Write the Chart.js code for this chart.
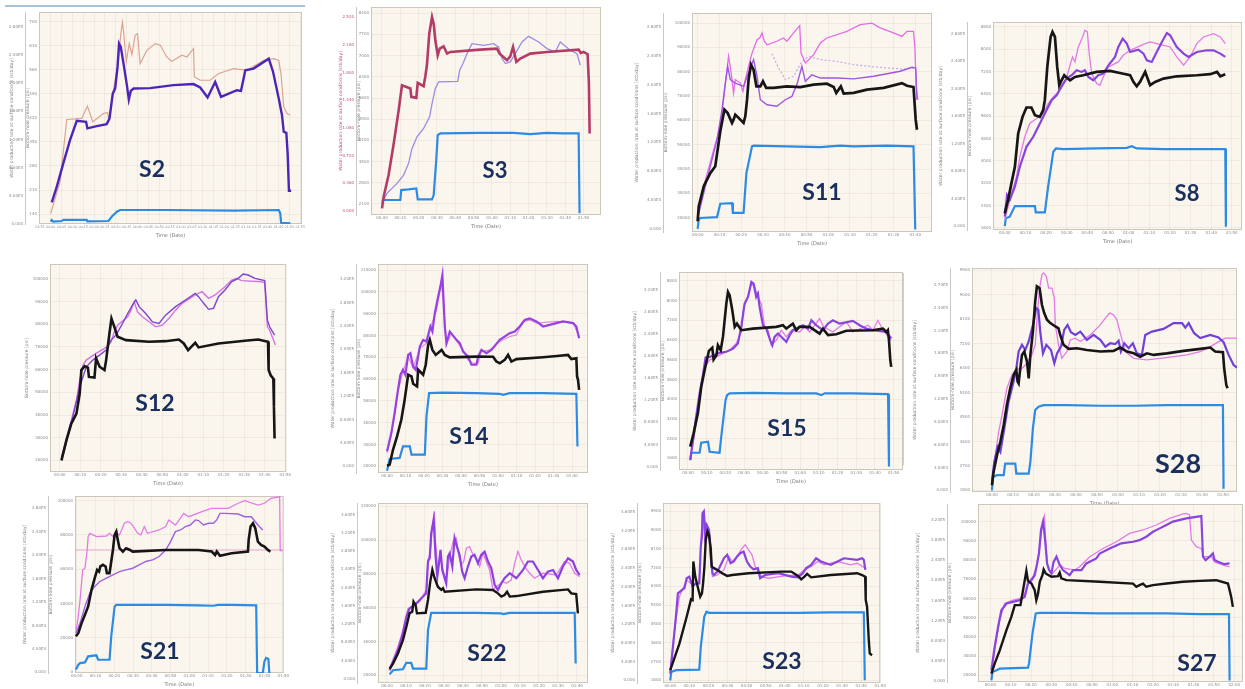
<!DOCTYPE html>
<html><head><meta charset="utf-8">
<script src="https://cdn.jsdelivr.net/npm/chart.js@4.4.1/dist/chart.umd.min.js"></script>
<style>
html,body{margin:0;padding:0;background:#ffffff;}
body{position:relative;width:1245px;height:689px;overflow:hidden;}
canvas{position:absolute;}
.lbl{position:absolute;transform:translate(-50%,-50%);font-family:Lato,'Open Sans','DejaVu Sans',sans-serif;font-weight:700;color:#1b2f5e;white-space:nowrap;line-height:1;}
.deco{position:absolute;}
</style></head><body>
<script>
// ---------- tick label arrays (bottom to top) ----------
const T_S2   = ["140","210","280","350","420","490","560","630","700"];
const T_S3   = ["2100","2800","3500","4200","4900","5600","6300","7000","7700","8400"];
const T_20K  = ["20000","30000","40000","50000","60000","70000","80000","90000","100000"];
const T_S8   = ["1600","2400","3200","4000","4800","5600","6400","7200","8000","8800"];
const T_S14  = ["20000","30000","40000","50000","60000","70000","80000","90000","100000","110000"];
const T_S28  = ["1800","2700","3600","4500","5400","6300","7200","8100","9000","9900"];
const T_S21  = ["0","20000","40000","60000","80000","100000"];
const T_S22  = ["20000","40000","60000","80000","100000","120000"];
const R_STD  = ["0.000","4.00E4","8.00E4","1.20E5","1.60E5","2.00E5","2.40E5","2.80E5","3.20E5","3.60E5"];
const R_S28  = ["0.000","3.00E4","6.00E4","9.00E4","1.20E5","1.50E5","1.80E5","2.10E5","2.40E5","2.70E5"];
const R_S3   = ["0.000","0.360","0.720","1.080","1.440","1.800","2.160","2.520"];

// ---------- series: [minutes after 00:00, % of axis height] ----------
const S2_purple=[[0.5,10.2],[2.8,17.6],[5.8,28.6],[8.9,39.6],[12.0,48.7],[16.3,48.2],[16.9,45.1],[21.2,46.2],[25.8,47.1],[27.1,49.8],[28.6,61.5],[29.7,63.9],[30.8,74.1],[31.5,85.1],[32.3,83.5],[33.8,74.1],[35.1,65.5],[36.0,58.7],[36.9,62.8],[38.2,63.9],[45.8,64.1],[56.6,65.5],[65.8,66.0],[68.9,64.4],[72.3,59.7],[75.8,67.0],[78.5,60.0],[85.8,63.1],[87.7,62.8],[89.7,72.5],[93.5,73.3],[100.5,78.0],[102.5,71.7],[105.1,59.2],[106.6,51.3],[107.4,43.5],[108.6,43.0],[109.2,33.3],[109.8,15.7],[110.8,15.7]];
const S2_tan=[[0,5.0],[4.3,19.9],[7.4,49.3],[14.3,49.8],[16.9,55.6],[19.4,48.2],[24.3,52.1],[26.2,52.6],[26.8,49.0],[28.9,63.1],[31.2,77.2],[32.3,89.8],[33.1,95.3],[33.8,88.2],[34.8,76.5],[36.2,85.1],[37.4,79.9],[38.9,89.0],[40.0,89.8],[41.2,75.7],[44.3,81.9],[48.2,85.1],[50.5,84.3],[53.5,78.8],[55.8,76.8],[60.5,79.6],[62.8,78.8],[65.8,82.7],[66.2,69.4],[68.9,67.8],[73.5,67.8],[77.4,71.0],[84.3,73.3],[90.5,72.5],[98.2,77.2],[102.8,78.0],[105.1,77.2],[106.2,70.2],[107.4,55.3],[108.9,52.1],[110.5,51.3]];
const S2_blue=[[0,1.1],[0.5,1.9],[1.2,1.1],[5.1,1.4],[5.8,1.9],[16.6,1.9],[16.9,1.2],[26.6,1.4],[28.2,3.5],[30.5,5.8],[32.0,6.6],[53.5,6.6],[84.3,6.3],[105.1,6.6],[105.8,5.0],[106.2,0.6],[110.5,0.3]];

const S3_maroon=[[0,3.2],[0.9,8.8],[3.6,19.2],[6.4,34.4],[9.1,50.4],[10.9,62.4],[15.5,60.8],[16.0,56.8],[18.7,56.3],[19.5,63.5],[22.7,61.9],[23.6,66.4],[24.5,72.0],[25.8,87.2],[27.3,95.2],[28.2,92.0],[29.1,84.0],[30.4,76.8],[31.5,80.0],[33.6,81.1],[35.5,77.6],[37.3,78.4],[53.6,79.5],[62.7,80.0],[64.2,77.6],[68.2,74.4],[70.0,76.3],[71.5,80.8],[73.3,73.6],[75.5,75.2],[80.9,77.6],[90.0,78.4],[107.3,79.5],[108.5,77.9],[110.0,78.4],[112.2,77.3],[112.9,63.2],[113.3,39.2]];
const S3_lilac=[[0,5.6],[2.7,10.4],[8.2,15.2],[11.8,19.2],[14.5,24.8],[16.4,32.0],[19.1,37.6],[22.7,41.6],[26.0,47.2],[27.3,53.6],[29.1,60.8],[30.9,64.0],[41.3,64.2],[42.4,69.6],[44.2,72.8],[46.4,77.6],[49.1,82.4],[55.5,81.6],[60.9,82.4],[63.6,80.8],[65.5,75.2],[67.3,72.8],[70.0,73.6],[72.7,77.6],[76.4,83.2],[80.0,85.9],[85.5,83.2],[90.0,80.0],[94.5,78.4],[97.3,83.2],[102.7,79.2],[106.4,77.6],[108.2,72.0]];
const S3_blue=[[0,6.4],[0.9,7.2],[10.0,7.2],[10.5,12.0],[14.5,12.3],[18.7,12.8],[19.5,7.5],[27.3,7.5],[28.2,9.6],[29.6,26.4],[30.4,38.4],[31.8,39.2],[53.6,39.5],[71.8,39.5],[80.9,38.9],[90.0,39.5],[99.1,39.2],[107.3,39.2],[107.8,0.8]];

const S11_black=[[0,4.9],[0.5,11.7],[2.8,20.9],[5.8,26.9],[8.1,30.0],[10.4,46.0],[12.3,55.9],[13.8,54.3],[15.8,49.8],[16.5,51.3],[17.3,53.6],[19.6,51.3],[21.1,49.8],[21.9,52.8],[22.7,60.4],[23.4,69.6],[24.5,76.4],[25.7,74.1],[27.0,66.5],[28.8,66.5],[30.0,68.8],[31.5,65.8],[34.9,65.8],[41.0,66.5],[47.2,66.2],[53.3,67.3],[59.4,67.7],[62.5,66.2],[63.7,63.5],[65.8,66.5],[67.1,63.2],[71.7,63.5],[77.8,65.0],[85.5,65.8],[93.9,68.0],[96.2,66.8],[99.2,66.2],[99.8,57.4],[100.2,51.3],[100.8,46.7]];
const S11_magenta=[[0,7.2],[2.8,20.9],[7.4,37.6],[10.4,48.2],[11.9,60.4],[13.5,74.1],[14.2,80.2],[15.3,73.4],[16.5,63.5],[17.3,69.6],[19.6,68.0],[20.8,64.2],[21.9,69.6],[23.4,75.6],[25.0,81.7],[27.3,87.8],[28.5,88.6],[29.6,90.9],[30.6,87.1],[31.9,85.5],[36.4,87.1],[39.5,88.6],[41.0,87.1],[44.1,90.9],[46.9,94.2],[47.5,81.7],[49.5,77.2],[53.3,81.0],[56.4,86.3],[59.4,88.6],[68.6,91.6],[74.7,94.7],[80.1,95.4],[83.9,93.2],[90.0,90.9],[93.9,89.3],[96.2,91.6],[99.2,91.6],[99.8,84.8],[100.5,65.0],[101.2,60.4]];
const S11_purple=[[0,6.4],[4.3,23.9],[8.9,42.2],[11.2,55.9],[12.7,68.0],[13.8,75.6],[15.0,69.6],[17.3,68.0],[21.1,66.5],[24.2,74.9],[25.7,78.7],[27.3,71.1],[28.8,60.4],[31.9,58.1],[36.4,57.4],[40.3,60.4],[43.3,61.9],[45.6,67.3],[47.9,75.6],[49.5,68.8],[52.5,71.8],[56.4,70.3],[64.0,70.3],[71.7,69.9],[80.9,71.1],[93.1,73.4],[98.5,75.2],[100.2,74.9],[100.8,60.4]];
const S11_lilac=[[34.1,81.4],[37.2,74.9],[40.3,69.6],[44.1,71.1],[47.9,77.9],[51.0,80.2],[56.4,78.7],[64.0,77.9],[71.7,76.4],[79.3,75.6],[87.0,74.9],[94.6,74.4],[99.5,74.9]];
const S11_blue=[[0,1.4],[0.5,5.6],[1.2,6.4],[8.9,6.8],[10.4,12.9],[15.8,13.2],[16.2,8.7],[21.1,8.7],[22.4,26.9],[25.0,39.1],[25.7,39.4],[41.0,39.1],[56.4,38.8],[65.5,39.4],[71.7,39.1],[87.0,39.4],[99.2,39.1],[100.0,1.1]];

const S8_black=[[0,8.0],[1.6,14.4],[3.2,22.4],[4.9,30.4],[6.5,46.4],[8.6,54.4],[10.5,58.9],[12.9,58.9],[14.6,55.2],[17.0,54.4],[18.6,57.6],[19.4,62.4],[20.6,78.4],[22.2,92.8],[23.1,95.2],[24.3,92.8],[25.4,78.4],[26.4,69.6],[27.5,72.0],[28.8,74.4],[29.9,73.3],[31.6,72.0],[34.0,73.6],[38.0,74.4],[44.5,76.0],[51.0,76.5],[55.8,75.5],[60.7,74.4],[62.3,71.2],[63.9,69.1],[65.5,71.2],[68.0,76.0],[70.4,69.6],[72.8,71.2],[76.9,72.8],[83.3,73.9],[93.0,74.4],[99.5,74.9],[102.8,76.0],[104.4,73.9],[106.8,74.9]];
const S8_magenta=[[0,4.8],[3.2,17.6],[5.7,25.6],[7.3,35.2],[9.7,44.8],[12.1,51.2],[15.4,53.6],[18.6,56.0],[21.0,60.8],[23.5,64.0],[25.9,66.4],[28.3,69.6],[29.9,72.8],[31.6,79.2],[32.8,83.2],[34.0,80.8],[35.6,88.0],[37.7,92.8],[38.8,96.0],[40.0,95.2],[40.9,84.8],[42.1,75.2],[44.5,70.4],[46.1,69.6],[47.7,73.6],[50.2,78.4],[55.0,80.8],[57.4,84.0],[60.7,86.4],[68.0,89.6],[70.4,90.4],[76.9,88.8],[80.1,88.0],[83.3,83.2],[86.6,79.2],[89.8,83.2],[93.0,89.6],[96.3,92.8],[101.1,94.4],[104.4,92.8],[106.8,89.6]];
const S8_purple=[[0,6.4],[1.1,16.8],[2.4,14.4],[4.9,20.8],[7.3,30.4],[10.5,40.0],[13.8,44.8],[17.0,51.2],[20.2,57.6],[22.7,62.4],[25.1,64.8],[28.3,70.4],[29.9,72.8],[32.4,74.4],[34.8,76.8],[37.2,76.0],[38.8,76.8],[40.5,73.6],[42.9,72.0],[45.3,74.4],[47.7,75.2],[50.2,79.2],[53.4,83.2],[55.0,88.0],[57.1,92.0],[59.1,89.6],[60.7,85.6],[64.7,86.7],[67.2,84.8],[68.8,81.6],[71.2,80.8],[73.6,85.6],[76.1,90.4],[78.5,94.7],[80.1,93.6],[83.3,88.0],[86.6,84.8],[89.0,83.2],[93.0,85.6],[97.9,86.4],[101.1,86.4],[104.4,84.8],[106.8,83.2]];
const S8_blue=[[0,1.9],[0.5,5.6],[2.4,6.4],[4.9,11.5],[14.6,11.5],[15.0,8.5],[19.4,8.5],[21.0,20.8],[23.5,37.6],[24.8,39.2],[28.3,38.9],[44.5,39.2],[59.1,39.5],[61.5,40.3],[63.9,39.2],[76.9,38.9],[93.0,38.9],[106.8,38.9],[107.1,1.6]];

const S12_black=[[0.8,5.6],[3.2,15.2],[5.6,23.3],[8.1,28.1],[9.7,37.7],[10.5,49.0],[12.1,50.9],[13.7,50.2],[14.2,45.7],[16.9,45.4],[17.7,54.6],[19.4,50.6],[21.8,49.0],[22.6,53.8],[24.2,66.6],[25.2,73.8],[26.6,69.8],[28.2,65.0],[32.3,63.4],[43.5,62.6],[51.6,62.9],[58.1,63.7],[60.5,61.8],[62.6,58.6],[64.5,60.5],[66.1,62.1],[67.7,59.9],[77.4,61.8],[90.3,63.1],[96.8,63.7],[101.6,62.6],[101.9,49.0],[102.9,46.5],[104.2,44.9],[104.5,31.3],[104.8,16.1]];
const S12_magenta=[[0.8,7.2],[5.6,24.9],[8.1,34.5],[9.7,44.1],[11.3,51.4],[12.9,53.8],[17.7,57.0],[22.6,59.9],[25.0,62.6],[26.6,67.4],[28.2,70.6],[33.1,74.6],[34.7,77.8],[36.3,81.9],[37.9,77.0],[40.3,74.6],[46.8,69.8],[50.0,70.6],[53.2,73.8],[56.5,77.8],[59.7,81.1],[66.1,85.1],[69.4,86.7],[72.6,83.5],[75.8,85.1],[80.6,89.1],[83.9,92.3],[86.3,93.1],[88.7,92.0],[98.4,91.5],[100.0,91.0],[101.3,69.8],[102.4,68.2],[105.2,61.0]];
const S12_purple=[[0.8,5.6],[5.6,23.3],[9.7,40.9],[12.9,50.6],[16.1,53.8],[19.4,56.2],[22.6,58.6],[25.0,63.4],[27.4,65.8],[30.6,71.4],[33.1,76.2],[35.5,80.3],[37.1,82.7],[38.7,79.5],[41.9,76.2],[45.2,72.2],[48.4,71.4],[51.6,75.4],[56.5,79.5],[61.3,82.7],[66.1,85.9],[67.7,84.3],[70.2,81.1],[72.6,78.2],[75.0,78.7],[77.4,84.3],[80.6,87.5],[83.9,91.5],[87.1,93.1],[89.5,95.2],[91.9,94.7],[95.2,93.1],[100.0,92.0],[101.3,73.0],[102.4,69.8],[104.8,65.8]];

const S14_black=[[0,3.5],[1.4,4.0],[3.2,11.1],[5.4,17.5],[7.7,25.5],[9.5,35.0],[11.4,47.0],[13.2,46.2],[14.1,42.7],[16.2,41.4],[16.8,49.4],[19.5,47.0],[20.9,51.8],[22.2,61.3],[23.1,63.7],[24.5,58.9],[26.3,56.5],[28.5,58.1],[29.5,58.9],[31.2,56.5],[33.9,55.3],[48.3,55.7],[57.3,55.6],[59.1,53.3],[60.9,52.5],[63.6,54.1],[65.4,56.5],[67.2,53.3],[69.9,54.5],[84.3,55.4],[93.3,56.1],[97.8,56.5],[99.6,54.5],[102.3,54.9],[102.7,46.2],[103.2,44.6],[103.8,39.8]];
const S14_purple=[[0,10.4],[2.3,19.1],[4.1,28.7],[5.9,39.8],[7.2,47.0],[8.6,49.4],[9.9,47.0],[11.4,56.5],[12.6,57.3],[14.1,51.0],[15.5,49.4],[16.8,55.7],[17.7,60.5],[19.5,63.7],[21.3,62.9],[22.7,67.7],[23.4,70.1],[24.5,67.7],[25.8,76.4],[27.6,84.4],[28.8,89.2],[29.9,94.7],[30.6,81.2],[31.2,70.1],[32.1,62.1],[33.9,67.7],[37.5,63.7],[39.3,62.1],[41.1,58.1],[43.8,55.7],[45.6,51.8],[48.3,51.8],[49.2,55.7],[51.0,58.9],[53.7,57.3],[56.4,58.9],[60.9,63.7],[66.3,66.9],[69.0,67.7],[71.7,70.1],[74.4,73.2],[77.1,74.0],[80.7,72.5],[84.3,70.1],[91.5,71.7],[95.1,72.5],[100.5,71.7],[102.3,70.1],[103.8,64.5]];
const S14_pink=[[0,9.6],[2.3,18.3],[5.9,39.0],[8.6,48.6],[11.4,55.7],[14.1,50.2],[17.7,59.7],[21.3,62.1],[23.4,69.3],[26.7,78.0],[29.4,90.8],[30.6,79.6],[32.1,61.3],[34.8,66.9],[38.4,62.1],[41.1,58.9],[43.8,54.1],[46.5,52.5],[49.2,52.5],[51.0,58.1],[55.5,58.9],[60.9,62.9],[66.3,65.3],[69.9,66.1],[73.5,72.5],[77.1,73.2],[80.7,71.7],[91.5,72.5],[100.5,72.0],[103.8,65.3]];
const S14_blue=[[0,1.1],[1.4,6.7],[6.8,7.2],[8.6,12.7],[12.3,12.7],[13.2,8.8],[20.4,8.8],[21.3,27.1],[22.7,38.2],[30.3,38.5],[48.3,38.2],[60.9,37.9],[62.7,37.4],[66.3,38.2],[84.3,38.2],[102.3,37.9],[102.9,12.7]];

const S15_black=[[1.2,11.8],[3.0,18.5],[5.3,28.6],[7.1,42.0],[8.9,50.4],[11.2,60.2],[13.0,61.8],[13.7,55.8],[15.2,58.0],[16.0,63.0],[17.5,60.5],[18.7,67.2],[19.6,75.6],[20.5,84.0],[21.4,89.9],[22.3,88.2],[23.7,80.7],[25.0,72.3],[26.2,73.9],[28.5,70.6],[34.8,71.4],[47.2,72.3],[50.8,73.1],[52.6,71.4],[56.1,73.9],[57.9,70.6],[59.7,72.3],[65.1,72.3],[70.4,68.9],[72.2,71.4],[74.9,68.1],[79.3,68.6],[84.7,70.3],[98.9,70.6],[104.3,71.4],[106.1,69.7],[106.9,70.6],[107.5,65.5],[108.2,55.5],[108.7,52.1]];
const S15_purple=[[1.2,5.0],[2.7,15.1],[4.1,25.2],[6.2,38.7],[8.0,47.9],[9.4,56.8],[11.6,57.1],[16.9,59.2],[20.5,59.7],[24.1,61.3],[26.7,63.9],[28.5,72.3],[30.3,84.0],[32.1,87.4],[33.9,95.0],[35.1,94.1],[36.5,87.4],[37.4,89.1],[38.3,82.4],[40.1,73.1],[41.9,71.4],[44.0,65.5],[45.1,63.0],[46.3,67.2],[48.1,68.9],[50.8,66.4],[52.6,64.7],[54.4,68.1],[56.1,70.6],[61.5,73.1],[64.2,71.4],[66.0,75.6],[68.6,73.1],[72.2,70.6],[74.9,73.9],[77.5,75.6],[81.1,73.9],[88.2,75.3],[91.8,73.1],[95.4,71.4],[98.9,70.6],[106.1,69.7],[108.7,66.4]];
const S15_pink=[[1.2,5.9],[3.6,18.5],[6.2,35.3],[8.9,52.1],[11.6,55.5],[16.9,58.0],[22.3,60.5],[25.8,63.9],[28.5,69.7],[29.8,82.4],[32.6,89.1],[33.9,94.1],[35.7,92.4],[37.4,87.4],[39.2,84.0],[41.0,72.3],[42.8,70.6],[44.6,63.0],[47.2,65.5],[49.9,70.6],[52.6,67.2],[55.3,70.6],[59.7,69.7],[62.4,72.3],[65.1,69.7],[67.7,73.1],[70.4,76.5],[72.5,72.3],[77.5,69.7],[81.1,72.3],[84.7,74.8],[88.2,69.7],[96.3,73.1],[98.9,70.6],[101.6,75.6],[104.3,70.6],[108.7,65.5]];
const S15_blue=[[1.2,5.0],[1.8,8.7],[6.2,8.7],[7.1,13.8],[10.7,14.3],[11.6,9.2],[16.9,8.7],[17.8,16.8],[20.1,35.3],[20.9,37.8],[22.3,38.7],[34.8,39.0],[52.6,38.7],[68.6,38.7],[71.3,37.8],[73.1,38.7],[88.2,38.7],[107.0,38.3],[107.5,1.7]];

const S28_black=[[0,3.0],[0.8,9.0],[2.4,16.4],[4.0,22.4],[5.6,29.9],[7.1,38.8],[8.7,46.3],[10.3,52.2],[11.6,54.5],[12.2,49.3],[12.7,48.5],[13.5,55.2],[14.3,61.2],[15.4,62.7],[16.7,58.2],[17.5,50.7],[18.3,61.2],[19.5,71.6],[20.6,85.1],[21.4,91.8],[22.7,91.0],[23.8,83.6],[24.9,79.9],[26.2,76.9],[27.8,75.4],[30.2,73.9],[31.7,73.1],[32.5,70.1],[34.1,65.7],[36.5,63.9],[40.5,64.2],[45.2,63.4],[51.6,62.7],[57.9,63.0],[61.1,64.5],[64.3,62.7],[67.5,61.9],[70.6,60.4],[73.8,61.9],[77.0,61.2],[83.3,61.9],[91.3,63.0],[99.2,63.9],[104.0,64.5],[106.3,62.7],[110.0,62.4],[110.6,55.2],[111.6,47.8],[112.2,46.3]];
const S28_purple=[[0,4.5],[1.1,13.4],[2.7,20.1],[4.0,17.9],[5.9,28.4],[7.9,40.3],[10.3,49.3],[11.6,55.2],[12.7,62.7],[14.3,65.7],[15.9,63.4],[17.5,67.2],[19.5,74.6],[21.1,82.1],[22.1,81.3],[23.0,71.6],[24.3,61.9],[25.9,65.7],[28.1,63.4],[29.7,57.5],[31.0,61.9],[32.9,64.9],[34.4,72.4],[36.0,74.6],[37.6,71.3],[39.7,70.1],[42.1,71.6],[45.2,67.9],[48.4,70.1],[51.6,67.9],[54.0,64.9],[56.3,66.4],[58.7,66.0],[60.3,67.5],[61.4,62.7],[63.0,66.4],[65.1,64.2],[67.1,66.4],[69.0,61.9],[71.4,61.2],[73.0,70.1],[76.2,71.6],[81.7,72.8],[86.5,75.4],[90.5,75.4],[92.1,73.4],[93.7,75.4],[96.3,70.9],[99.2,68.7],[104.0,70.1],[107.9,69.0],[110.3,66.9],[112.7,61.2],[115.1,56.7],[116.7,55.5]];
const S28_pink=[[0,3.0],[1.6,16.4],[3.2,26.9],[4.8,34.3],[7.1,46.3],[9.5,52.2],[11.9,55.2],[13.5,54.5],[15.9,56.7],[19.0,61.2],[20.6,65.7],[21.7,80.6],[22.7,91.0],[23.8,97.0],[24.6,97.8],[25.9,96.3],[27.0,91.0],[28.6,91.0],[29.7,86.6],[30.2,74.6],[31.7,65.7],[33.3,59.7],[35.7,62.7],[37.3,67.9],[39.7,68.7],[42.1,67.2],[46.8,70.1],[51.6,74.6],[54.0,77.6],[56.0,79.9],[57.9,79.1],[59.5,76.9],[61.1,70.9],[63.5,62.7],[67.5,59.7],[73.8,59.0],[80.2,59.7],[86.5,60.4],[92.9,61.2],[99.2,62.7],[104.0,64.9],[109.5,67.9],[111.1,68.7],[116.7,68.7]];
const S28_blue=[[0,0.7],[0.5,6.7],[2.4,7.5],[5.6,7.5],[6.3,12.7],[11.1,12.7],[11.6,8.2],[17.5,8.2],[18.3,13.4],[19.5,28.4],[20.6,36.6],[22.2,38.1],[24.6,38.8],[35.7,38.8],[51.6,38.5],[67.5,38.5],[83.3,38.8],[99.2,38.8],[110.0,38.8],[110.3,1.5]];

const S21_black=[[-0.4,20.7],[0.9,22.6],[2.6,28.2],[4.4,32.9],[6.1,37.6],[7.9,47.0],[9.6,53.6],[10.9,58.3],[11.9,57.3],[12.6,60.2],[14.0,61.1],[15.4,60.2],[16.1,56.4],[17.5,56.4],[18.4,63.0],[19.3,69.5],[20.2,78.0],[21.1,79.9],[21.9,75.2],[22.8,70.5],[24.6,68.6],[26.3,70.5],[28.4,69.5],[29.8,68.6],[47.4,69.5],[64.9,69.5],[71.9,68.6],[73.7,66.7],[74.6,68.6],[76.3,66.2],[82.5,67.7],[91.2,68.6],[91.6,75.2],[92.6,82.7],[93.9,84.6],[95.1,81.8],[96.5,74.2],[98.2,72.4],[100.0,71.4],[101.8,69.5],[103.2,68.6]];
const S21_magenta=[[-0.4,24.4],[0.4,28.2],[1.8,41.4],[3.2,58.3],[4.4,59.2],[5.6,69.5],[6.1,77.1],[7.0,78.9],[10.5,77.1],[15.8,77.4],[17.5,78.9],[19.3,77.1],[21.1,78.9],[22.8,78.0],[25.4,84.6],[27.2,85.5],[28.9,84.6],[30.7,81.8],[32.5,78.9],[34.2,78.0],[36.0,82.7],[37.7,78.9],[43.9,80.8],[47.4,82.7],[49.1,86.5],[52.6,83.6],[57.0,90.2],[59.6,88.3],[66.7,91.2],[71.9,93.0],[80.7,93.0],[86.0,95.9],[89.5,97.4],[96.5,94.9],[100.0,95.9],[103.5,98.7],[108.1,99.5],[108.4,69.2],[109.6,69.2]];
const S21_purple=[[-0.4,22.6],[1.8,28.2],[4.4,37.6],[7.0,45.1],[9.6,48.9],[12.3,51.7],[15.8,53.6],[19.3,55.5],[22.8,57.3],[26.3,58.3],[29.8,59.2],[33.3,61.1],[36.8,63.0],[40.4,63.9],[43.9,65.8],[47.4,69.5],[50.0,74.2],[52.6,79.9],[55.3,80.8],[57.9,82.7],[60.5,83.6],[63.2,86.5],[64.9,86.1],[67.5,83.6],[70.2,84.6],[72.8,84.6],[74.6,86.5],[76.3,90.2],[78.9,90.2],[86.0,89.8],[89.5,88.3],[93.0,88.3],[96.5,83.6],[99.1,80.8]];
const S21_limit=[[-0.9,69.5],[110.2,69.5]];
const S21_blue=[[-0.4,1.9],[0.9,4.7],[1.8,5.6],[4.4,6.0],[6.1,9.4],[10.5,10.0],[11.4,7.5],[17.5,7.5],[18.4,20.7],[20.2,37.6],[21.1,38.5],[29.8,38.5],[47.4,38.5],[64.9,38.2],[72.8,38.0],[75.4,38.5],[82.5,38.5],[95.6,38.2],[96.1,0],[99.1,0],[100.0,6.6],[100.9,8.5],[102.1,7.9],[102.6,0]];

const S22_black=[[1.4,8.0],[3.2,10.8],[5.8,16.4],[8.4,23.8],[10.2,31.2],[11.9,38.7],[13.3,39.6],[14.0,45.2],[15.1,43.3],[15.8,38.7],[20.4,39.0],[21.6,46.1],[22.8,56.3],[23.9,62.8],[25.1,58.2],[26.8,53.5],[28.6,51.7],[29.5,52.6],[30.4,50.7],[47.0,52.0],[55.8,51.7],[58.4,49.8],[60.2,48.0],[61.9,48.9],[63.2,50.7],[64.6,48.0],[68.1,48.3],[82.1,50.7],[95.3,52.0],[97.0,49.8],[99.6,49.4],[100.5,38.7]];
const S22_purple=[[1.4,7.1],[5.8,18.2],[8.4,27.5],[10.2,36.8],[11.9,41.4],[15.4,44.2],[17.2,46.1],[20.7,49.8],[21.6,67.5],[22.5,69.3],[23.3,83.3],[24.6,90.7],[25.6,70.3],[26.5,59.1],[27.4,66.5],[28.2,74.0],[29.1,62.8],[31.2,55.4],[32.1,70.3],[33.0,72.1],[34.4,64.7],[35.6,80.5],[36.8,75.8],[38.2,71.2],[39.6,61.9],[40.9,58.2],[42.6,64.7],[44.4,70.3],[46.1,71.2],[47.9,66.5],[49.6,71.2],[51.4,73.0],[53.2,67.5],[54.9,63.8],[56.7,54.5],[58.4,51.7],[60.2,55.4],[61.9,58.2],[64.6,61.0],[68.1,58.2],[71.6,62.8],[74.2,67.5],[76.8,67.5],[79.5,62.8],[82.1,58.2],[84.7,61.9],[87.4,62.8],[90.0,58.2],[92.6,64.7],[95.3,69.3],[97.9,67.5],[99.6,62.8],[101.4,60.0]];
const S22_pink=[[1.4,8.0],[5.8,20.1],[8.4,29.4],[11.1,41.4],[13.7,42.4],[17.2,45.2],[20.7,51.7],[21.6,68.4],[22.8,72.1],[23.9,87.0],[24.9,95.4],[25.6,77.7],[26.8,62.8],[28.1,70.3],[29.1,64.7],[30.4,59.1],[31.6,59.1],[33.0,70.3],[35.1,79.6],[36.5,80.5],[37.9,70.3],[39.1,65.6],[40.4,67.5],[41.8,74.9],[43.5,75.8],[45.3,71.2],[47.0,69.3],[48.8,64.7],[50.5,72.1],[52.3,67.5],[54.0,62.8],[55.8,51.7],[57.5,53.5],[61.1,56.3],[62.8,55.4],[65.4,57.2],[67.2,66.5],[68.9,73.0],[70.7,68.4],[73.0,63.8],[75.1,61.0],[77.7,58.2],[82.1,61.0],[89.1,60.0],[91.8,64.7],[93.5,67.5],[96.1,66.5],[98.8,61.0],[101.4,59.1]];
const S22_blue=[[1.4,4.8],[3.2,7.1],[8.4,7.6],[10.2,11.2],[12.8,11.2],[13.7,8.0],[20.7,8.0],[21.6,29.4],[23.3,39.0],[29.5,39.0],[47.0,39.0],[60.2,38.7],[61.1,38.3],[64.6,39.0],[82.1,39.0],[98.8,39.0],[99.3,10.8]];

const S23_black=[[0,7.1],[4.8,21.9],[8.6,36.8],[10.9,46.5],[11.7,46.1],[12.1,67.5],[13.1,59.1],[14.8,51.7],[15.7,48.0],[16.6,49.8],[17.2,55.4],[17.9,64.7],[18.6,79.6],[19.5,84.2],[20.3,82.3],[21.2,74.9],[21.7,64.7],[22.9,63.8],[24.7,62.8],[27.2,61.0],[29.8,59.5],[32.4,60.0],[41.0,61.0],[58.3,61.9],[63.4,61.9],[66.9,59.5],[68.6,57.6],[70.3,59.1],[71.7,60.6],[73.8,58.7],[84.1,60.0],[97.9,61.0],[100.5,60.0],[102.1,59.1],[102.4,46.1],[103.1,42.4],[104.0,23.8],[104.5,16.4],[105.7,15.4]];
const S23_purple=[[0,5.2],[1.4,20.1],[2.8,34.9],[4.0,49.8],[6.2,51.7],[7.4,52.6],[8.6,58.2],[10.0,59.1],[11.7,53.5],[13.4,55.4],[15.2,55.4],[16.0,75.8],[16.6,81.4],[16.9,94.4],[17.6,95.4],[18.3,83.3],[19.0,87.9],[20.3,85.1],[21.2,70.3],[22.1,61.0],[22.9,60.0],[24.7,61.9],[26.4,65.6],[28.1,69.3],[29.8,71.2],[31.6,66.5],[33.3,67.5],[35.0,70.3],[36.7,72.1],[38.4,73.0],[40.2,67.5],[41.9,64.7],[43.6,63.2],[45.9,63.8],[47.1,58.2],[49.7,60.0],[56.6,61.0],[63.4,59.1],[66.9,58.7],[69.5,61.0],[71.2,63.8],[73.8,65.6],[76.4,69.3],[79.0,67.5],[84.1,65.6],[87.6,67.5],[91.0,69.3],[97.9,68.4],[100.5,69.3],[101.4,68.4],[102.2,62.8]];
const S23_pink=[[0,6.1],[2.2,29.4],[4.8,48.0],[8.6,57.2],[11.7,54.5],[15.2,55.4],[16.0,77.7],[16.9,93.5],[18.3,77.7],[19.5,87.0],[20.7,81.4],[22.1,59.1],[24.7,60.0],[28.1,62.8],[30.7,70.3],[32.4,67.5],[35.0,70.3],[37.6,74.9],[39.3,76.8],[41.0,74.0],[42.8,71.2],[44.5,64.7],[46.2,61.9],[47.9,59.1],[51.4,58.2],[60.0,59.5],[66.9,60.0],[70.3,62.8],[73.8,64.7],[77.2,67.5],[80.7,65.6],[87.6,67.5],[94.5,65.6],[97.9,66.5],[102.2,63.8]];
const S23_blue=[[0,1.5],[0.5,6.1],[3.1,7.1],[15.2,7.4],[16.0,20.1],[17.8,36.8],[19.0,39.6],[20.3,39.0],[32.4,39.0],[49.7,39.0],[66.9,39.0],[84.1,39.2],[101.4,39.2],[101.9,1.5]];

const S27_black=[[0.5,4.7],[2.1,10.3],[4.6,17.8],[7.9,29.1],[10.3,36.6],[12.0,43.2],[14.8,43.2],[17.7,62.5],[18.5,56.8],[20.2,55.3],[21.8,51.6],[22.6,46.0],[23.4,49.3],[24.3,56.3],[25.6,60.0],[26.2,63.2],[27.2,61.0],[30.0,59.1],[33.3,59.5],[34.1,61.4],[34.9,58.2],[37.4,57.2],[53.8,56.3],[70.2,55.3],[71.8,53.5],[73.4,54.4],[75.1,55.3],[76.7,53.5],[80.0,54.4],[86.6,55.3],[94.8,56.3],[103.0,56.8],[111.1,57.2],[116.9,55.3],[117.7,51.6],[118.5,47.8],[119.3,42.2]];
const S27_purple=[[0.5,6.6],[2.1,19.7],[3.8,31.0],[5.4,40.3],[7.9,44.1],[11.1,45.0],[14.4,46.0],[16.9,47.8],[18.5,55.3],[20.2,57.2],[21.8,60.0],[23.0,66.6],[23.9,72.2],[24.9,85.4],[25.9,90.1],[26.6,83.5],[27.2,76.0],[27.9,66.6],[28.9,62.9],[30.0,61.0],[31.1,67.5],[32.5,70.4],[33.8,66.6],[35.7,62.9],[39.0,60.0],[40.7,62.9],[44.8,62.9],[47.2,66.6],[52.1,69.4],[53.8,72.2],[58.7,75.0],[64.4,77.9],[70.2,78.8],[73.4,79.7],[76.7,81.6],[80.0,84.4],[83.3,86.3],[86.6,88.2],[89.8,90.1],[96.4,91.9],[103.8,93.2],[104.6,70.4],[105.9,68.5],[107.9,70.4],[109.5,72.2],[110.3,68.5],[112.0,67.5],[115.2,66.2],[117.7,66.6]];
const S27_pink=[[0.5,4.7],[2.1,17.8],[4.6,34.7],[7.0,44.1],[11.1,46.0],[14.4,46.9],[16.9,49.7],[18.5,56.3],[21.0,59.1],[22.6,64.7],[24.3,76.0],[25.6,88.2],[26.6,92.9],[27.2,79.7],[27.9,66.6],[29.2,62.9],[30.5,61.0],[32.1,62.9],[34.1,65.7],[36.6,63.8],[41.5,62.9],[43.9,64.7],[48.9,70.4],[55.4,75.0],[62.0,78.8],[68.5,83.5],[75.1,85.4],[81.6,88.2],[88.2,91.9],[94.8,94.4],[96.4,94.7],[98.0,93.8],[98.9,79.7],[101.3,76.0],[103.8,75.0],[104.9,70.4],[108.7,70.4],[110.3,67.5],[114.4,65.7],[117.7,64.7]];
const S27_blue=[[0.5,0.9],[1.0,5.6],[3.0,6.6],[4.6,7.5],[18.5,8.1],[19.0,10.3],[20.7,27.2],[22.3,38.5],[24.3,38.8],[37.4,38.8],[53.8,38.5],[70.2,38.5],[86.6,38.5],[103.0,38.1],[117.4,38.1],[117.7,0.9]];

// ---------- colours ----------
const C_BLACK='#161616', C_PURPLE='#8a44de', C_PINK='#e47ae6', C_BLUE='#2d8be3';

// ---------- panel layout (page pixels) ----------
const PANELS=[
 {name:'S2', L:39,R:302,T:12,B:224, wo:16,wi:14, xr:[-5.4,115.8], xs:5, xf:3.3, inner:T_S2, ip:[4.7,95.4], outer:R_STD.slice(0,8), op:[0,93],
  series:[[S2_purple,'#4d25b5',2.4,'y'],[S2_tan,'#dca491',1.2,'y'],[S2_blue,C_BLUE,2.2,'y2']], lab:[152,168,23]},
 {name:'S3', L:371,R:601,T:7,B:215, wo:18,wi:15, xr:[-6,119.5], xs:10, inner:T_S3, ip:[5.3,97], outer:R_S3, op:[2,95], oc:'#c0506a',
  series:[[S3_maroon,'#b23c66',2.6,'y'],[S3_lilac,'#9a8ce4',1.3,'y'],[S3_blue,C_BLUE,2.2,'y2']], lab:[495,170,22]},
 {name:'S11', L:692,R:932,T:13,B:232, wo:29,wi:29, xr:[-2.6,107.7], xs:10, inner:T_20K, ip:[6.5,95.4], outer:R_STD.slice(0,8), op:[1.4,93.6],
  series:[[S11_black,C_BLACK,2.7,'y'],[S11_purple,'#a056e0',1.4,'y'],[S11_magenta,'#e46ae8',1.3,'y'],[S11_lilac,'#c9a7e6',1.2,'y',[2,2]],[S11_blue,C_BLUE,2.2,'y2']], lab:[822,191,23]},
 {name:'S8', L:993,R:1242,T:22,B:230, wo:29,wi:26, xr:[-5.7,114.9], xs:10, inner:T_S8, ip:[1,97.6], outer:R_STD.slice(0,8), op:[1.9,94.4],
  series:[[S8_black,C_BLACK,2.7,'y'],[S8_purple,C_PURPLE,2.2,'y'],[S8_magenta,C_PINK,1.3,'y'],[S8_blue,C_BLUE,2.2,'y2']], lab:[1187,193,22]},
 {name:'S12', L:50,R:288,T:264,B:472, wo:0,wi:26, xr:[-4.8,110.5], xs:10, inner:T_20K, ip:[5.6,92.8], outer:null,
  series:[[S12_black,C_BLACK,2.6,'y'],[S12_purple,'#7b45cc',1.4,'y'],[S12_magenta,'#d670e6',1.4,'y']], lab:[155,402,23]},
 {name:'S14', L:378,R:588,T:264,B:473, wo:26,wi:22, xr:[-4.9,108.6], xs:10, inner:T_S14, ip:[3.2,97.1], outer:R_STD.slice(0,9), op:[3.2,92.8],
  series:[[S14_black,C_BLACK,2.6,'y'],[S14_purple,'#9840e2',2.2,'y'],[S14_pink,'#e690e0',1.3,'y'],[S14_blue,C_BLUE,2.2,'y2']], lab:[469,435,23]},
 {name:'S15', L:679,R:903,T:272,B:470, wo:28,wi:19, xr:[-4.8,115.0], xs:10, inner:T_S8, ip:[5.9,95.5], outer:R_STD.slice(0,9), op:[1.7,91],
  series:[[S15_black,C_BLACK,2.6,'y'],[S15_purple,C_PURPLE,2.2,'y'],[S15_pink,C_PINK,1.3,'y'],[S15_blue,C_BLUE,2.2,'y2']], lab:[787,427,23]},
 {name:'S28', L:972,R:1237,T:268,B:492, wo:38,wi:22, xr:[-9.5,116.7], xs:10, inner:T_S28, ip:[0.7,99], outer:R_S28, op:[0.7,92.5],
  series:[[S28_black,C_BLACK,2.6,'y'],[S28_purple,'#7040d8',2.2,'y'],[S28_pink,C_PINK,1.3,'y'],[S28_blue,C_BLUE,2.2,'y2']], lab:[1178,462,27]},
 {name:'S21', L:75,R:286,T:496,B:673, wo:26,wi:27, xr:[-0.9,110.2], xs:10, inner:T_S21, ip:[0.4,97.4], outer:R_STD.slice(0,8), op:[0.4,93],
  series:[[S21_black,C_BLACK,2.6,'y'],[S21_purple,'#a060e0',1.4,'y'],[S21_magenta,C_PINK,1.3,'y'],[S21_limit,'#e7a5cf',1,'y'],[S21_blue,C_BLUE,2.2,'y2']], lab:[160,650,23]},
 {name:'S22', L:378,R:588,T:503,B:683, wo:27,wi:21, xr:[-4.7,105.8], xs:10, inner:T_S22, ip:[4.3,98.1], outer:R_STD, op:[2.4,93.5],
  series:[[S22_black,C_BLACK,2.4,'y'],[S22_purple,'#8e3fe0',2.2,'y'],[S22_pink,C_PINK,1.3,'y'],[S22_blue,C_BLUE,2.2,'y2']], lab:[487,652,23]},
 {name:'S23', L:663,R:883,T:503,B:683, wo:27,wi:26, xr:[-3.8,110], xs:10, inner:T_S28, ip:[1.5,95.4], outer:R_STD, op:[1.5,95],
  series:[[S23_black,C_BLACK,2.4,'y'],[S23_purple,C_PURPLE,2.2,'y'],[S23_pink,C_PINK,1.3,'y'],[S23_blue,C_BLUE,2.2,'y2']], lab:[782,660,23]},
 {name:'S27', L:978,R:1243,T:504,B:682, wo:32,wi:31, xr:[-6.1,124.3], xs:10, inner:T_20K, ip:[3.8,90], outer:R_STD.slice(0,9), op:[0.6,91],
  series:[[S27_black,C_BLACK,2.4,'y'],[S27_purple,C_PURPLE,2.2,'y'],[S27_pink,C_PINK,1.3,'y'],[S27_blue,C_BLUE,2.2,'y2']], lab:[1197,662,23]}
];

function timeLabel(v){
  const m=((Math.round(v)%1440)+1440)%1440;
  const h=Math.floor(m/60), mm=m%60;
  return String(h).padStart(2,'0')+':'+String(mm).padStart(2,'0');
}
function spread(labels, range){
  const n=labels.length;
  return labels.map((_,i)=>({value: range[0] + (n>1 ? i*(range[1]-range[0])/(n-1) : 0)}));
}
const plotBg={
  id:'plotBg',
  beforeDraw(chart){const a=chart.chartArea,c=chart.ctx;c.save();c.fillStyle='#fbf6ed';c.fillRect(a.left,a.top,a.right-a.left,a.bottom-a.top);c.restore();},
  beforeDatasetsDraw(chart){const a=chart.chartArea,c=chart.ctx;c.save();c.strokeStyle='#cdc7ba';c.lineWidth=1;c.strokeRect(a.left+0.5,a.top+0.5,a.right-a.left-1,a.bottom-a.top-1);c.restore();}
};

function makePanel(p){
  const padT=5,padR=4,bh=15;
  const wo=p.outer?p.wo:0, wi=p.wi;
  const cw=wo+wi+(p.R-p.L)+padR, ch=padT+(p.B-p.T)+bh;
  const cv=document.createElement('canvas');
  cv.width=cw; cv.height=ch;
  cv.style.left=(p.L-wo-wi)+'px'; cv.style.top=(p.T-padT)+'px';
  cv.style.width=cw+'px'; cv.style.height=ch+'px';
  document.body.appendChild(cv);
  const tf={size:4,family:"'DejaVu Sans',sans-serif"};
  const xf={size:p.xf||4,family:"'DejaVu Sans',sans-serif"};
  const gc='rgba(140,130,110,0.17)';
  const scales={
    x:{type:'linear',min:p.xr[0],max:p.xr[1],
      afterBuildTicks(s){const t=[];for(let v=Math.ceil(p.xr[0]/p.xs)*p.xs;v<=p.xr[1]+1e-9;v+=p.xs)t.push({value:v});s.ticks=t;},
      afterFit(s){s.height=bh;},
      ticks:{callback:v=>timeLabel(v),font:xf,color:'#8a8a8a',maxRotation:0,minRotation:0,autoSkip:false,padding:1},
      grid:{color:gc,lineWidth:0.6,drawTicks:false},border:{display:false},
      title:{display:true,text:'Time (Date)',font:{size:5,family:"'DejaVu Sans',sans-serif"},color:'#777',padding:{top:0,bottom:0}}},
    y:{type:'linear',position:'left',min:0,max:100,weight:1,
      afterBuildTicks(s){s.ticks=spread(p.inner,p.ip);},
      afterFit(s){s.width=wi;},
      ticks:{callback:(v,i)=>p.inner[i],font:tf,color:'#8a8a8a',padding:2},
      grid:{color:gc,lineWidth:0.6,drawTicks:false},border:{display:false},
      title:{display:true,text:'Bottom-hole pressure [psi]',font:{size:4.5,family:"'DejaVu Sans',sans-serif"},color:'#808080',padding:0}}
  };
  if(p.outer){
    scales.y2={type:'linear',position:'left',min:0,max:100,weight:2,
      afterBuildTicks(s){s.ticks=spread(p.outer,p.op);},
      afterFit(s){s.width=wo;},
      ticks:{callback:(v,i)=>p.outer[i],font:tf,color:p.oc||'#8a8a8a',padding:2},
      grid:{display:false,drawTicks:false},border:{display:true,color:'#c8c8c8',width:1},
      title:{display:true,text:'Water production rate at surface conditions [stb/day]',font:{size:4.5,family:"'DejaVu Sans',sans-serif"},color:p.oc||'#808080',padding:0}};
  }
  const datasets=p.series.map(([d,col,w,ax,dash])=>({
    data:d.map(([x,y])=>({x,y})),borderColor:col,backgroundColor:col,borderWidth:w,
    pointRadius:0,tension:0,fill:false,yAxisID:ax,borderDash:dash||[]
  }));
  new Chart(cv,{type:'line',data:{datasets},
    options:{responsive:false,animation:false,devicePixelRatio:1,events:[],
      layout:{padding:{top:padT,right:padR,left:0,bottom:0}},
      plugins:{legend:{display:false},tooltip:{enabled:false}},scales},
    plugins:[plotBg]});
  const lb=document.createElement('div');
  lb.className='lbl'; lb.textContent=p.name;
  lb.style.left=p.lab[0]+'px'; lb.style.top=p.lab[1]+'px'; lb.style.fontSize=p.lab[2]+'px';
  document.body.appendChild(lb);
}

// decorations
function deco(l,t,w,h,col){const d=document.createElement('div');d.className='deco';d.style.cssText=`left:${l}px;top:${t}px;width:${w}px;height:${h}px;background:${col}`;document.body.appendChild(d);}
deco(5,5,300,2,'#a9c3dc');
deco(903,273,1,192,'#cfcfcf');

PANELS.forEach(makePanel);
</script>
</body></html>
